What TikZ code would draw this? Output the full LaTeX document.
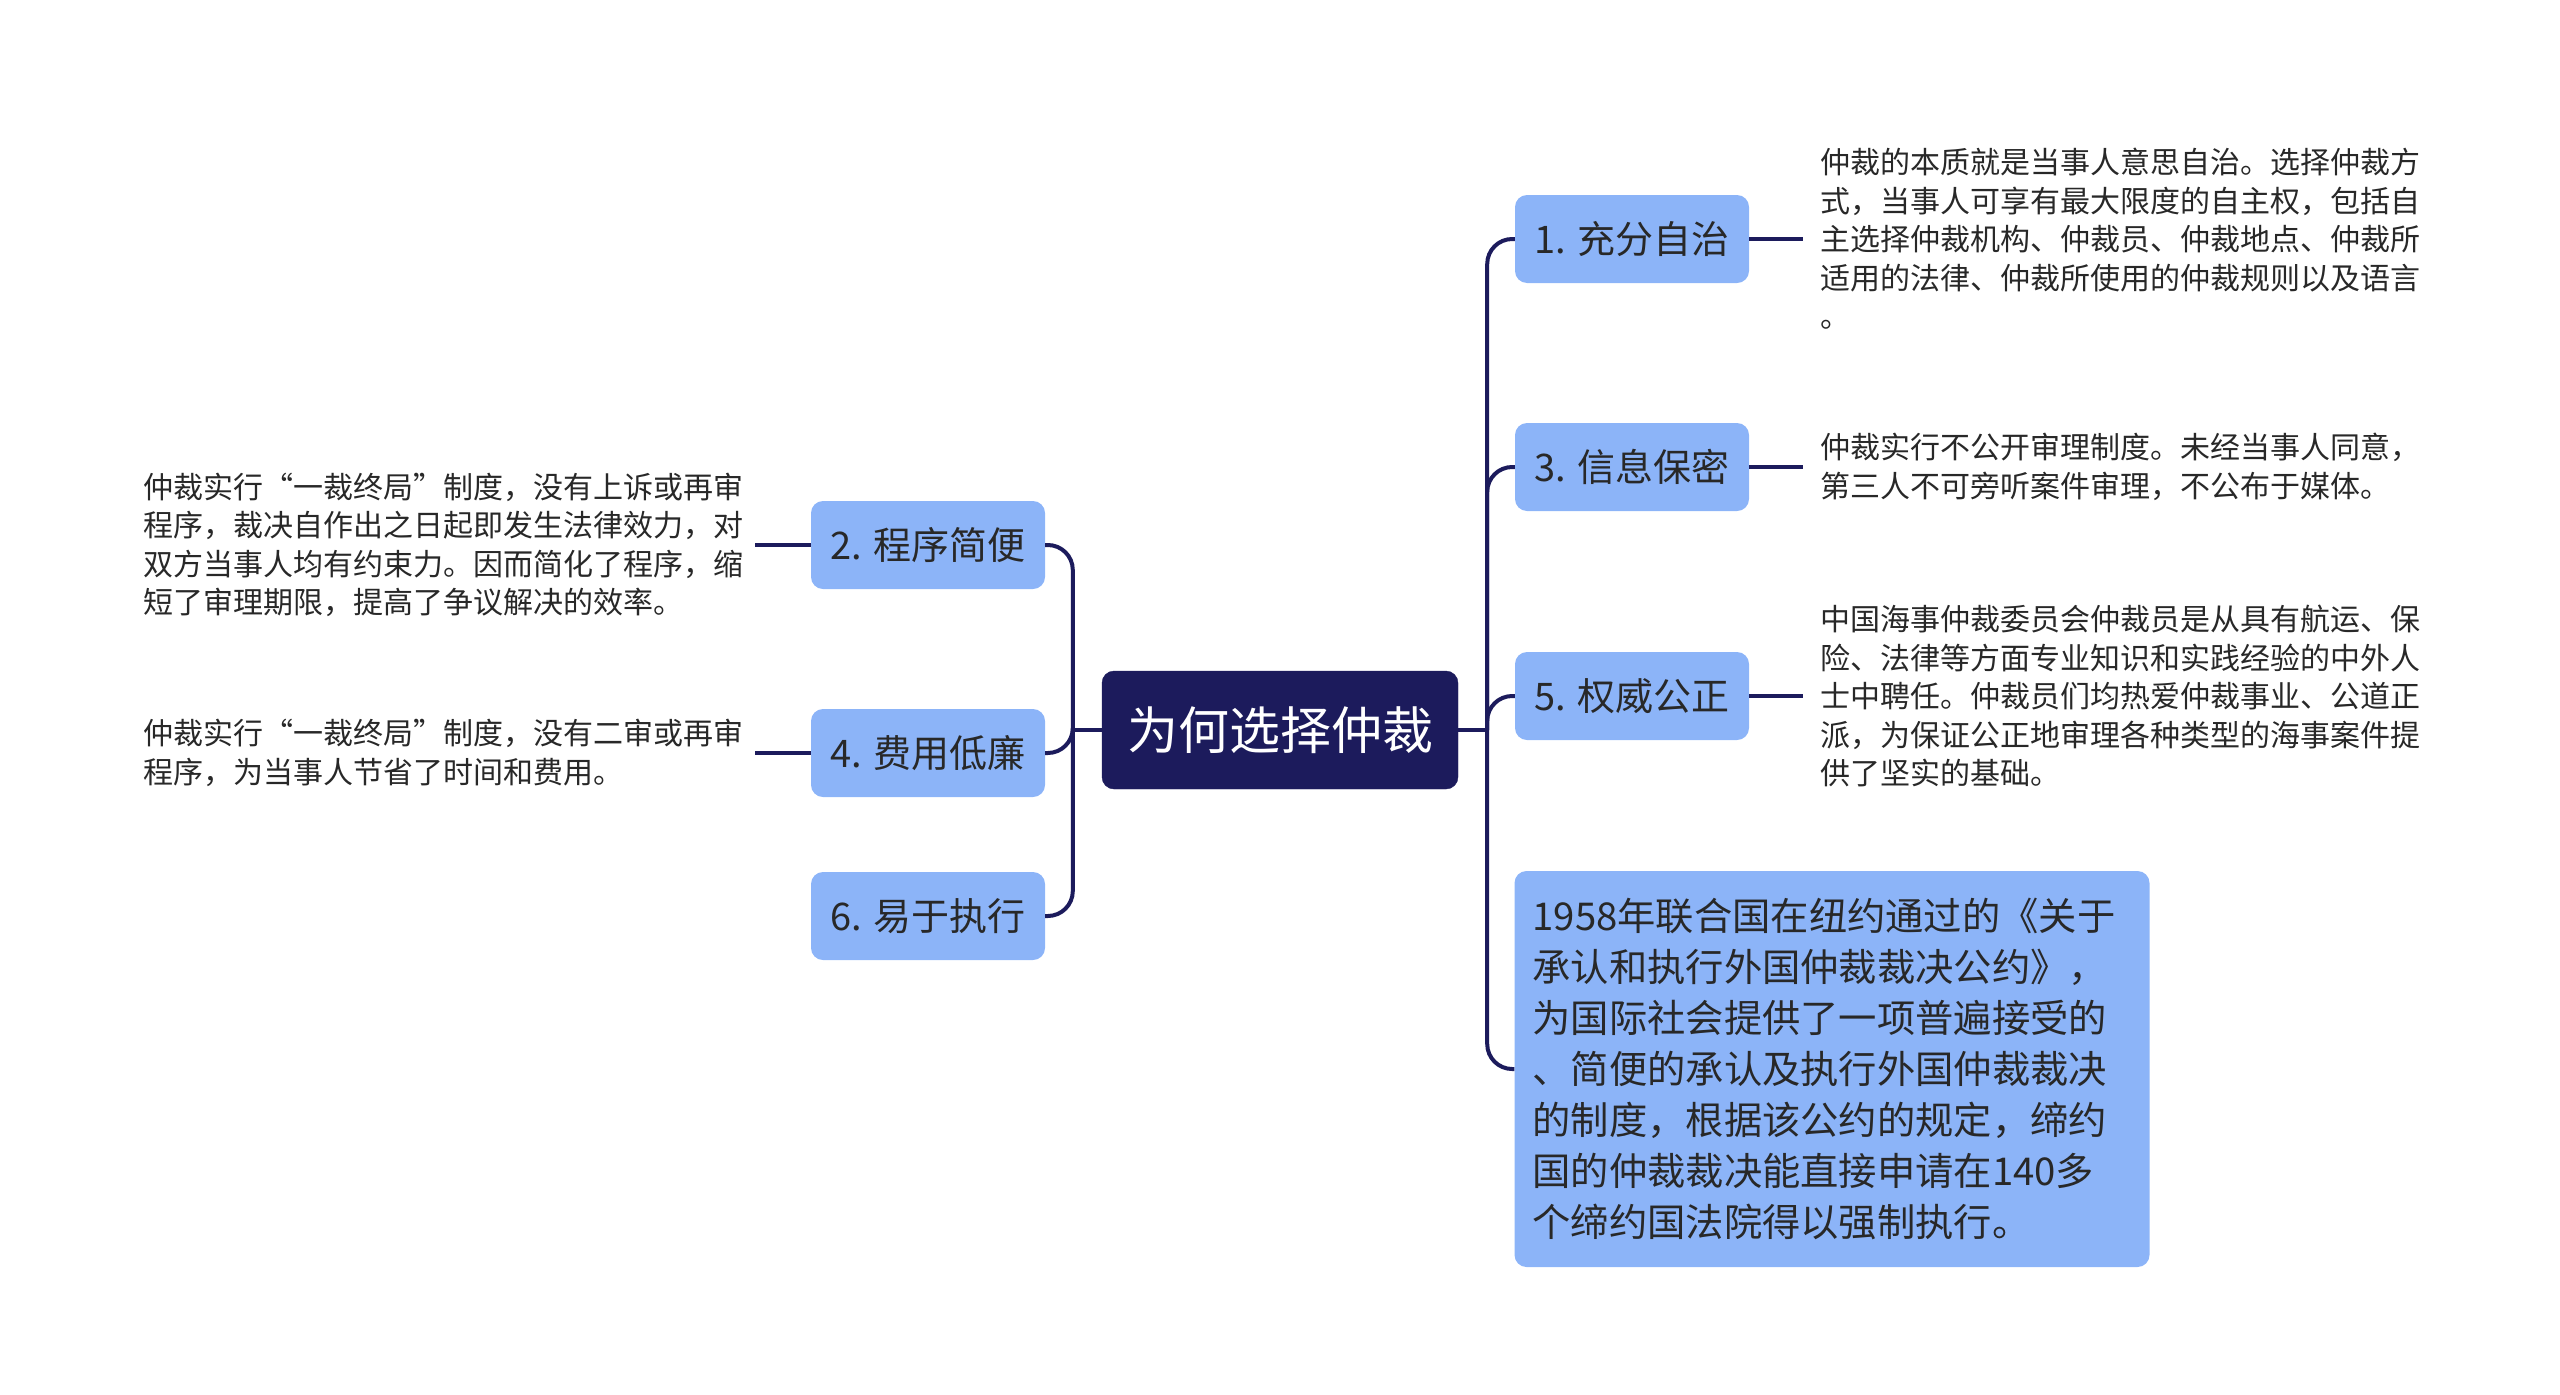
\documentclass[tikz,border=0pt]{standalone}
\usepackage{fontspec}
\setmainfont{Noto Sans CJK SC}
\usetikzlibrary{positioning,calc}
\definecolor{mmnavy}{RGB}{28,27,92}
\definecolor{mmblue}{RGB}{140,180,248}
\definecolor{mmtext}{RGB}{40,40,40}
\tikzset{
  mmroot/.style={fill=mmnavy, draw=mmnavy, rounded corners=12pt, minimum width=356pt, minimum height=118pt, text=white, font=\fontsize{51}{60}\selectfont},
  mmtopic/.style={fill=mmblue, rounded corners=12pt, minimum width=234pt, minimum height=88pt, text=mmtext, font=\fontsize{38}{46}\selectfont},
  mmbig/.style={fill=mmblue, rounded corners=12pt, text width=599pt, minimum height=396pt, inner xsep=18pt, align=left, text=mmtext, font=\fontsize{38.3}{51}\selectfont},
  mmnote/.style={align=left, inner xsep=11pt, inner ysep=0pt, text=mmtext, font=\fontsize{30}{38.5}\selectfont},
  mmlink/.style={draw=mmnavy, line width=4pt, rounded corners=25pt},
}

\begin{document}
\begin{tikzpicture}[x=1pt, y=-1pt]
  \useasboundingbox (0,0) rectangle (2560,1395);

  %% Centre topic
  \node[mmroot] (root) at (1280,730) {为何选择仲裁};
  \coordinate (rj) at ($(root.east)+(29,0)$);
  \coordinate (lj) at ($(root.west)+(-29,0)$);

  %% Right branches
  \node[mmtopic] (n1) at (1632,239) {1. 充分自治};
  \node[mmtopic] (n3) at (1632,467) {3. 信息保密};
  \node[mmtopic] (n5) at (1632,696) {5. 权威公正};
  \node[mmbig]   (n7) at (1832,1069) {1958年联合国在纽约通过的《关于\\承认和执行外国仲裁裁决公约》，\\为国际社会提供了一项普遍接受的\\、简便的承认及执行外国仲裁裁决\\的制度，根据该公约的规定，缔约\\国的仲裁裁决能直接申请在140多\\个缔约国法院得以强制执行。};

  %% Left branches
  \node[mmtopic] (n2) at (928,545) {2. 程序简便};
  \node[mmtopic] (n4) at (928,753) {4. 费用低廉};
  \node[mmtopic] (n6) at (928,916) {6. 易于执行};

  %% Notes
  \node[mmnote, inner xsep=17pt, anchor=west] (t1) at ($(n1.east)+(54,0)$) {仲裁的本质就是当事人意思自治。选择仲裁方\\式，当事人可享有最大限度的自主权，包括自\\主选择仲裁机构、仲裁员、仲裁地点、仲裁所\\适用的法律、仲裁所使用的仲裁规则以及语言\\。};
  \node[mmnote, inner xsep=17pt, anchor=west] (t3) at ($(n3.east)+(54,0)$) {仲裁实行不公开审理制度。未经当事人同意，\\第三人不可旁听案件审理，不公布于媒体。};
  \node[mmnote, inner xsep=17pt, anchor=west] (t5) at ($(n5.east)+(54,0)$) {中国海事仲裁委员会仲裁员是从具有航运、保\\险、法律等方面专业知识和实践经验的中外人\\士中聘任。仲裁员们均热爱仲裁事业、公道正\\派，为保证公正地审理各种类型的海事案件提\\供了坚实的基础。};
  \node[mmnote, anchor=east] (t2) at ($(n2.west)+(-56,0)$) {仲裁实行“一裁终局”制度，没有上诉或再审\\程序，裁决自作出之日起即发生法律效力，对\\双方当事人均有约束力。因而简化了程序，缩\\短了审理期限，提高了争议解决的效率。};
  \node[mmnote, anchor=east] (t4) at ($(n4.west)+(-56,0)$) {仲裁实行“一裁终局”制度，没有二审或再审\\程序，为当事人节省了时间和费用。};

  %% Connectors
  \draw[mmlink] (root.east) -- (rj);
  \draw[mmlink] (root.west) -- (lj);
  \foreach \n in {n1,n3,n5,n7}
    \draw[mmlink] (rj) |- (\n.west);
  \foreach \n in {n2,n4,n6}
    \draw[mmlink] (lj) |- (\n.east);
  \draw[mmlink] (n1.east) -- (t1.west);
  \draw[mmlink] (n3.east) -- (t3.west);
  \draw[mmlink] (n5.east) -- (t5.west);
  \draw[mmlink] (n2.west) -- (t2.east);
  \draw[mmlink] (n4.west) -- (t4.east);
\end{tikzpicture}
\end{document}
